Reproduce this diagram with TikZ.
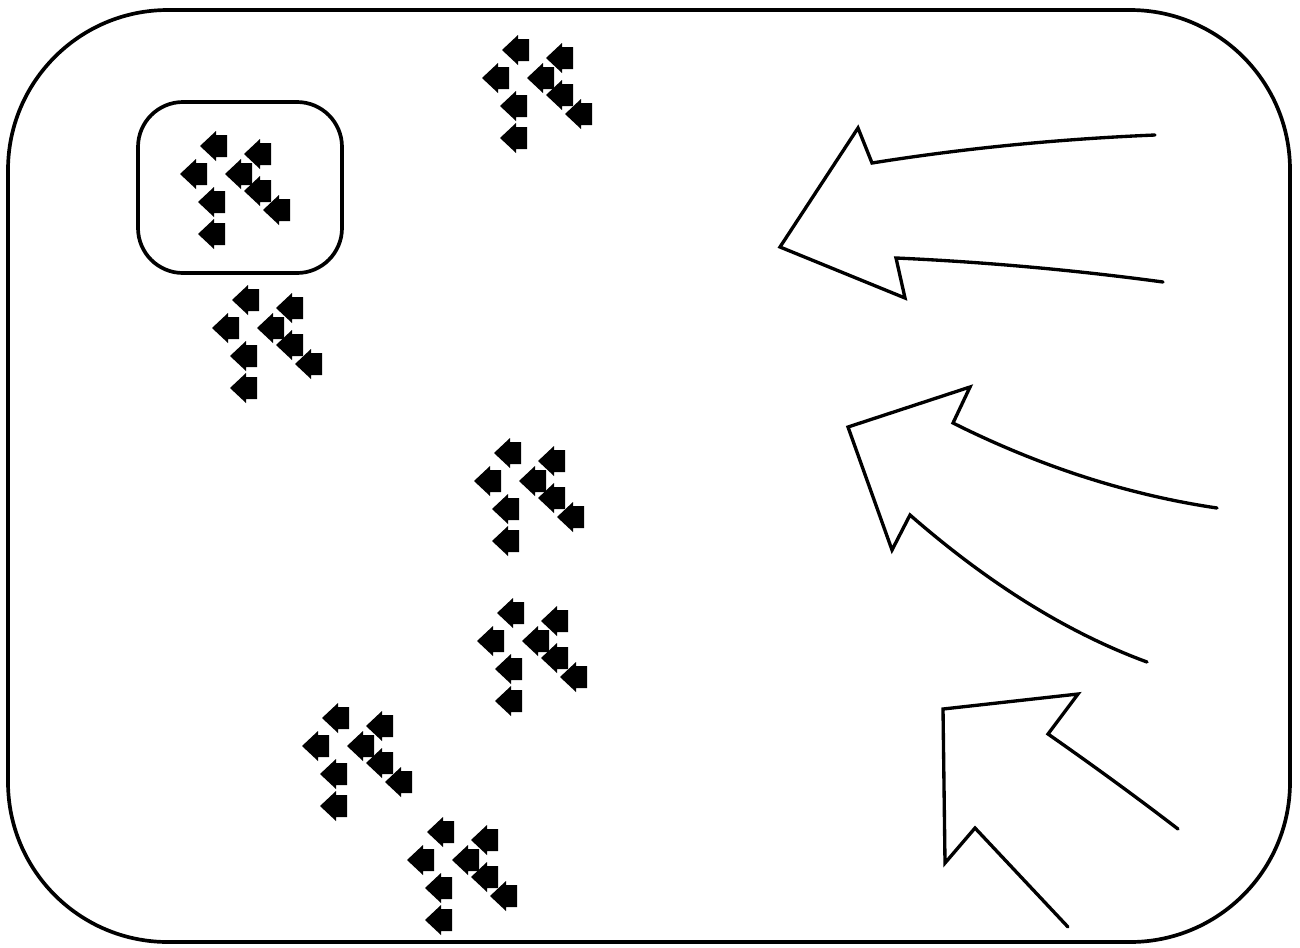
\documentclass[tikz,border=0pt]{standalone}
\usetikzlibrary{arrows.meta}

\begin{document}
\begin{tikzpicture}[
    x=0.02cm, y=-0.02cm,
    frame/.style={draw, line width=2.1pt, rounded corners=#1},
    bigarrow/.style={draw, line width=1.9pt, line join=miter, line cap=round},
    flock/.pic={\fill (-13,0) -- (3,-15) -- (3,-11) -- (14,-11) -- (14,11) -- (3,11) -- (3,15) -- cycle;},
]
\useasboundingbox (0,0) rectangle (1300,947);

% ---- Outer frame and the highlighted group ----
\draw[frame=3.2cm] (8,10) rectangle (1290,942);
\draw[frame=0.9cm] (138,102) rectangle (342,273);

% ---- Groups of small arrows (same formation in each group) ----
\foreach \cx/\cy in {213/146, 515/50, 245/300, 507/453, 510/613, 335/718, 440/832}
  \foreach \dx/\dy in {0/0, 44/8, -20/28, 25/28, 44/45, 63/64, -2/56, -2/88}
    \pic at (\cx+\dx, \cy+\dy) {flock};

% ---- Large open arrows on the right ----
\draw[bigarrow] (1155,135) .. controls (1060,139) and (966,148) .. (872,163) -- (858,128)
    -- (780,247) -- (905,298) -- (896,258) .. controls (985,262) and (1074,270) .. (1163,282);
\draw[bigarrow] (1217,508) .. controls (1129,495) and (1041,467) .. (953,423) -- (970,387)
    -- (848,427) -- (892,550) -- (910,515) .. controls (989,584) and (1068,633) .. (1147,662);
\draw[bigarrow] (1178,829) .. controls (1135,796) and (1091,764) .. (1048,734) -- (1078,694)
    -- (943,709) -- (945,863) -- (975,828) -- (1068,927);
\end{tikzpicture}
\end{document}
